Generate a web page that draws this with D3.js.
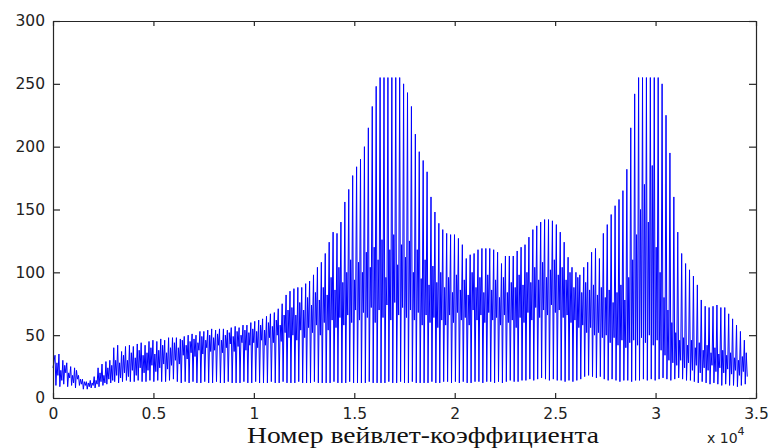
<!DOCTYPE html>
<html>
<head>
<meta charset="utf-8">
<script src="https://cdn.jsdelivr.net/npm/d3@7"></script>
<style>
  html, body { margin: 0; padding: 0; background: #fff; }
  svg { display: block; }
</style>
</head>
<body>
<svg id="chart" width="771" height="448"></svg>
<script>
// ---- data ----
const xTicks = [0, 5000, 10000, 15000, 20000, 25000, 30000, 35000];
const xTickLabels = ["0", "0.5", "1", "1.5", "2", "2.5", "3", "3.5"];
const yTicks = [0, 50, 100, 150, 200, 250, 300];
const yTickLabels = ["0", "50", "100", "150", "200", "250", "300"];
const xLabel = "Номер вейвлет-коэффициента";

const startValue = 24;         // value of coefficient 0
const coefStart = 100;         // coefficient number of first spike
const coefStep = 195;          // coefficients per spike period

// spike tops, one per period
const peaks = [
  34,35,30,28,25,24,18,15,13,14,
  17,24,27,29,30,40,42,37,41,42,
  41,43,44,42,45,46,45,47,46,48,
  48,48,47,49,50,51,50,53,53,54,
  55,54,55,55,54,56,57,56,58,58,
  60,61,62,63,65,67,68,71,75,82,
  85,87,88,88,91,93,98,104,108,115,
  124,132,131,140,156,166,177,184,190,200,
  215,232,248,255,255,255,255,255,255,250,
  243,232,210,196,189,180,160,148,139,134,
  131,130,130,127,122,111,114,115,118,119,
  119,119,118,116,107,113,113,113,117,120,
  122,128,134,137,140,142,142,141,138,132,
  124,112,104,100,98,104,108,116,119,111,
  131,138,146,153,158,165,182,215,242,255,
  255,255,255,255,255,250,225,195,160,132,
  115,107,102,97,90,78,73,72,73,74,
  72,72,67,63,58,53,46
];
// spike bottoms
const lows = [
  10,9,11,9,10,8,10,7,7,8,
  8,9,10,11,12,13,12,13,14,13,
  13,14,13,13,14,13,14,13,13,14,
  15,13,12,13,12,13,12,12,13,12,
  12,13,12,12,13,12,12,12,13,12,
  12,13,12,12,12,13,12,12,13,12,
  12,12,13,12,12,12,13,12,12,12,
  12,13,12,12,12,13,12,12,12,12,
  13,12,12,12,12,13,12,12,13,12,
  12,13,12,12,12,12,13,12,12,13,
  13,12,13,12,13,12,12,13,13,12,
  13,13,12,13,12,13,14,13,13,14,
  14,15,14,15,16,15,14,15,14,14,
  13,14,13,14,15,17,18,17,16,17,
  15,14,15,14,13,14,14,13,14,14,
  15,14,15,14,15,16,15,14,15,16,
  15,14,14,13,12,13,12,11,12,11,
  10,11,10,10,9,10,11
];
// secondary (shorter) spikes
const midHigh = [
  28,22,26,20,18,22,15,13,12,12,
  14,20,18,24,26,30,28,34,30,36,
  32,38,34,36,40,35,38,42,36,40,
  44,40,46,42,45,47,44,49,46,50,
  48,51,46,50,52,49,53,50,54,52,
  55,53,58,54,60,57,62,58,66,70,
  72,66,76,70,80,74,84,78,88,82,
  96,86,104,92,100,110,94,108,100,116,
  104,120,110,126,96,118,130,106,122,112,
  125,100,118,95,110,90,105,92,100,88,
  96,84,98,86,94,82,100,88,96,84,
  98,86,94,80,96,84,92,88,98,90,
  100,92,104,94,108,96,102,110,98,104,
  94,100,88,96,84,92,86,90,82,88,
  80,86,76,84,90,78,96,110,130,150,
  170,140,185,120,100,80,70,60,52,46,
  48,42,46,40,44,38,42,36,40,35,
  38,34,36,32,30,33,36
];
// mid-level floor of each period
const midLow = [
  18,14,20,16,12,15,11,10,9,10,
  11,13,12,15,14,18,16,20,17,22,
  18,24,20,22,26,21,24,27,23,26,
  30,27,34,31,36,33,38,35,40,37,
  38,42,36,40,43,37,41,44,38,42,
  44,40,46,42,48,44,50,45,52,48,
  50,46,54,48,56,52,58,50,60,54,
  62,56,64,58,66,60,70,62,68,64,
  72,60,70,64,74,62,76,66,72,64,
  70,62,68,58,66,60,64,56,62,58,
  66,60,68,62,64,58,70,62,66,60,
  68,62,64,58,66,60,62,56,64,60,
  68,62,72,64,70,66,74,68,70,64,
  66,60,62,56,58,52,56,50,52,48,
  50,44,48,42,46,40,44,46,42,48,
  44,50,42,46,38,34,30,28,26,30,
  24,28,22,26,20,24,22,26,21,24,
  20,23,19,22,18,21,17
];

// ---- build series from arrays ----
const series = [[0, startValue]];
peaks.forEach((p, i) => {
  const c = coefStart + i * coefStep;
  series.push([c, p]);
  series.push([c + 45, lows[i]]);
  series.push([c + 95, midHigh[i]]);
  series.push([c + 145, midLow[i]]);
});

// ---- layout ----
const svg = d3.select("#chart");
const L = 53, R = 756, T = 21, B = 398;
const x = d3.scaleLinear().domain([0, 35000]).range([L, R]);
const y = d3.scaleLinear().domain([0, 300]).range([B, T]);

const axisColor = "#262626";
const tickFont = "'DejaVu Sans', sans-serif";

// data line
svg.append("path")
  .datum(series)
  .attr("fill", "none")
  .attr("stroke", "#0000ff")
  .attr("stroke-width", 1)
  .attr("stroke-linejoin", "miter")
  .attr("d", d3.line().x(d => x(d[0])).y(d => y(d[1])));

// axes (MATLAB style: box, inward ticks)
const xBottom = d3.axisBottom(x).tickValues(xTicks).tickFormat((d, i) => xTickLabels[i]).tickSizeInner(-5).tickSizeOuter(0).tickPadding(10);
const xTop = d3.axisTop(x).tickValues(xTicks).tickFormat("").tickSizeInner(-5).tickSizeOuter(0);
const yLeft = d3.axisLeft(y).tickValues(yTicks).tickFormat((d, i) => yTickLabels[i]).tickSizeInner(-7).tickSizeOuter(0).tickPadding(8);
const yRight = d3.axisRight(y).tickValues(yTicks).tickFormat("").tickSizeInner(-7).tickSizeOuter(0);

function style(g) {
  g.selectAll("path").attr("stroke", axisColor).attr("stroke-width", 1.2);
  g.selectAll("line").attr("stroke", axisColor).attr("stroke-width", 1.2);
  g.selectAll("text").attr("fill", "#222").style("font-family", tickFont).style("font-size", "15.5px");
}
svg.append("g").attr("transform", `translate(0,${B})`).call(xBottom).call(style);
svg.append("g").attr("transform", `translate(0,${T})`).call(xTop).call(style);
svg.append("g").attr("transform", `translate(${L},0)`).call(yLeft).call(style);
svg.append("g").attr("transform", `translate(${R},0)`).call(yRight).call(style);

// exponent label
const ex = svg.append("text")
  .attr("x", 707).attr("y", 443)
  .style("font-family", tickFont).style("font-size", "14px").attr("fill", "#222");
ex.append("tspan").text("x 10");
ex.append("tspan").attr("dy", -8).style("font-size", "11px").text("4");

// x axis title
svg.append("text")
  .attr("x", 247).attr("y", 443)
  .attr("textLength", 352).attr("lengthAdjust", "spacingAndGlyphs")
  .style("font-family", "'Liberation Serif', 'Times New Roman', serif")
  .style("font-size", "23px").attr("fill", "#111")
  .text(xLabel);
</script>
</body>
</html>
